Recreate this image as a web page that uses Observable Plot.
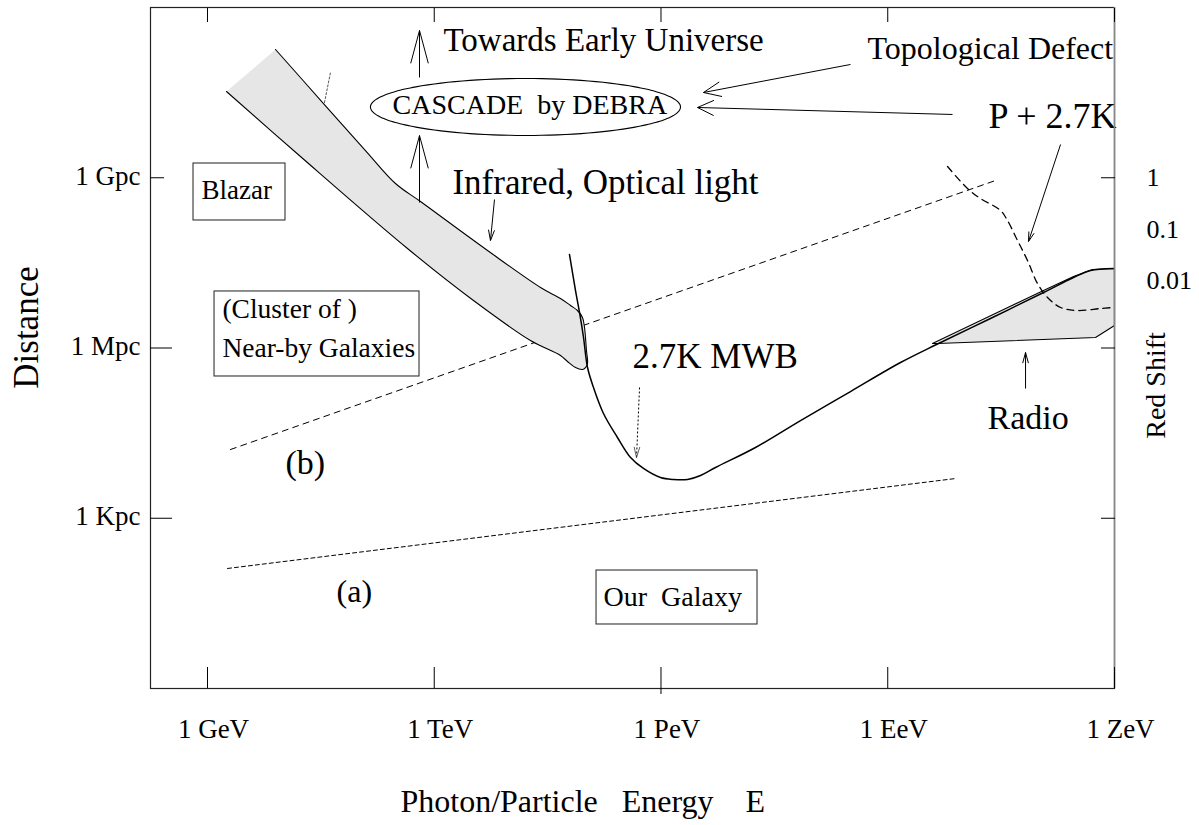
<!DOCTYPE html>
<html><head><meta charset="utf-8">
<script src="https://cdn.jsdelivr.net/npm/d3@7"></script>
<script src="https://cdn.jsdelivr.net/npm/@observablehq/plot@0.6"></script>
<style>
html,body{margin:0;padding:0;background:#fff;}
#chart svg{display:block;}
</style></head><body><div id="chart"></div>
<script>
// x: log10(E / eV), y: log10(distance / pc)
const xTicks = [9, 12, 15, 18, 21];
const xTickLabels = ["1 GeV", "1 TeV", "1 PeV", "1 EeV", "1 ZeV"];
const yTicks = [9, 6, 3];
const yTickLabels = ["1 Gpc", "1 Mpc", "1 Kpc"];
const redshiftLabels = ["1", "0.1", "0.01"];
const redshiftY = [8.863, 7.947, 7.048];

// Infrared / optical band outline (upper edge, then lower edge back)
const irX = [9.900, 10.535, 11.090, 11.487, 11.818, 12.705, 13.406, 13.670, 13.803, 13.895, 13.961, 13.988, 14.014, 14.028, 14.001,
             13.961, 13.869, 13.763, 13.670, 13.273, 12.519, 11.646, 10.230, 9.251];
const irY = [11.260, 10.308, 9.480, 8.899, 8.581, 7.718, 7.066, 6.872, 6.749, 6.661, 6.537, 6.361, 5.956, 5.727, 5.656,
             5.621, 5.656, 5.762, 5.868, 6.132, 6.837, 7.753, 9.374, 10.520];

// 2.7K microwave background horizon
const mwbX = [13.789, 13.869, 13.922, 13.975, 14.028, 14.107, 14.239, 14.424, 14.597, 14.768, 14.993, 15.165, 15.351, 15.523, 15.721,
              16.250, 16.846, 17.507, 18.169, 18.645, 19.359, 20.061, 20.458, 20.683, 20.987];
const mwbY = [7.648, 7.013, 6.626, 6.185, 5.656, 5.304, 4.846, 4.423, 4.070, 3.877, 3.718, 3.683, 3.683, 3.753, 3.894,
              4.247, 4.722, 5.233, 5.744, 6.062, 6.520, 6.978, 7.242, 7.366, 7.401];

// Radio band
const radioX = [18.592, 20.061, 20.458, 20.709, 21.0, 21.0, 20.749, 18.658, 18.592];
const radioY = [6.079, 7.013, 7.260, 7.383, 7.401, 6.396, 6.185, 6.079, 6.079];

// P + 2.7K curve
const pgzX = [18.791, 19.055, 19.227, 19.492, 19.584, 19.717, 19.849, 19.981, 20.114, 20.286, 20.511, 20.815, 20.987];
const pgzY = [9.198, 8.811, 8.634, 8.423, 8.247, 7.894, 7.542, 7.137, 6.890, 6.714, 6.661, 6.696, 6.714];

// Dashed boundaries (a) and (b)
const lineBX = [9.304, 19.426];
const lineBY = [4.211, 8.952];
const lineAX = [9.265, 18.897];
const lineAY = [2.115, 3.700];

// short dotted tick near IR band
const dotX = [10.548, 10.627];
const dotY = [10.326, 10.855];

// Arrows: tail (x1,y1) -> tip (x2,y2)
const arrowX1 = [11.805, 11.805, 12.797, 17.507, 18.857, 20.286, 19.823];
const arrowY1 = [10.767, 8.564, 8.617, 10.996, 10.115, 9.586, 5.286];
const arrowX2 = [11.805, 11.805, 12.744, 15.562, 15.483, 19.862, 19.823];
const arrowY2 = [11.595, 9.744, 7.894, 10.502, 10.238, 7.877, 5.921];
const arrowHeadLen = [34, 34, 11, 19, 18, 10, 11];
const arrowHeadAngle = [15, 15, 16, 23, 25, 16, 15];

// dotted arrow to the MWB curve
const dotArrowX1 = [14.716], dotArrowY1 = [5.304], dotArrowX2 = [14.676], dotArrowY2 = [4.070];

// Boxes
const boxX1 = [8.815, 9.093, 14.147];
const boxX2 = [10.032, 11.805, 16.277];
const boxY1 = [8.247, 5.498, 1.128];
const boxY2 = [9.251, 6.996, 2.079];

// Ellipse around "CASCADE by DEBRA"
const ellipseCenter = [13.207, 10.247];
const ellipseRadius = [2.051, 0.502];

// Annotation labels (start-anchored, y is the baseline)
const labelText = ["Towards Early Universe", "Topological Defect", "CASCADE\u00a0\u00a0by DEBRA", "P + 2.7K",
  "Infrared, Optical light", "2.7K MWB", "Radio", "(b)", "(a)", "Blazar", "(Cluster of )", "Near-by Galaxies", "Our\u00a0\u00a0Galaxy"];
const labelX = [12.122, 17.732, 11.448, 19.333, 12.241, 14.623, 19.320, 10.032, 10.707, 8.921, 9.198, 9.198, 14.239];
const labelY = [11.242, 11.101, 10.115, 9.885, 8.722, 5.639, 4.581, 3.771, 1.533, 8.617, 6.520, 5.850, 1.445];
const labelSize = [33, 32, 28, 36, 35, 35, 34, 34, 32, 27, 27.5, 27.5, 28];

const W = 1199, H = 825, mL = 150, mR = 85, mT = 7, mB = 137;
const xDomain = [8.2459, 21], yDomain = [0, 12];
const xs = Plot.scale({x: {type: "linear", domain: xDomain, range: [mL, W - mR]}});
const ys = Plot.scale({y: {type: "linear", domain: yDomain, range: [H - mB, mT]}});

const pts = (X, Y) => X.map((x, i) => ({x, y: Y[i]}));

function heads(X1, Y1, X2, Y2, L, A) {
  const out = [];
  X1.forEach((_, i) => {
    const tx = xs.apply(X2[i]), ty = ys.apply(Y2[i]);
    const sx = xs.apply(X1[i]), sy = ys.apply(Y1[i]);
    const a = Math.atan2(sy - ty, sx - tx), h = A[i] * Math.PI / 180;
    for (const s of [-1, 1]) {
      out.push({x1: X2[i], y1: Y2[i],
        x2: xs.invert(tx + L[i] * Math.cos(a + s * h)),
        y2: ys.invert(ty + L[i] * Math.sin(a + s * h))});
    }
  });
  return out;
}
const shafts = arrowX1.map((x1, i) => ({x1, y1: arrowY1[i], x2: arrowX2[i], y2: arrowY2[i]}));
const arrowHeads = heads(arrowX1, arrowY1, arrowX2, arrowY2, arrowHeadLen, arrowHeadAngle);
const dotShaft = [{x1: dotArrowX1[0], y1: dotArrowY1[0], x2: dotArrowX2[0], y2: dotArrowY2[0]}];
const dotHeads = heads(dotArrowX1, dotArrowY1, dotArrowX2, dotArrowY2, [11], [15]);

const ellipse = d3.range(0, 361, 3).map(a => ({
  x: ellipseCenter[0] + ellipseRadius[0] * Math.cos(a * Math.PI / 180),
  y: ellipseCenter[1] + ellipseRadius[1] * Math.sin(a * Math.PI / 180)
}));
const boxes = boxX1.map((x1, i) => ({x1, x2: boxX2[i], y1: boxY1[i], y2: boxY2[i]}));
const labels = labelText.map((t, i) => ({t, x: labelX[i], y: labelY[i], s: labelSize[i]}));

const plot = Plot.plot({
  width: W, height: H,
  marginLeft: mL, marginRight: mR, marginTop: mT, marginBottom: mB,
  x: {type: "linear", domain: xDomain, axis: null},
  y: {type: "linear", domain: yDomain, axis: null},
  style: {fontFamily: "'Liberation Serif', 'Times New Roman', serif", background: "white", color: "black", overflow: "visible"},
  marks: [
    // dashed boundaries
    Plot.line(pts(lineBX, lineBY), {x: "x", y: "y", stroke: "black", strokeWidth: 1, strokeDasharray: "6,5"}),
    Plot.line(pts(lineAX, lineAY), {x: "x", y: "y", stroke: "black", strokeWidth: 1, strokeDasharray: "4,3"}),
    // IR / optical band
    Plot.line(pts(irX, irY), {x: "x", y: "y", fill: "#e6e6e6", stroke: "black", strokeWidth: 1.1, curve: "catmull-rom"}),
    Plot.line(pts(dotX, dotY), {x: "x", y: "y", stroke: "#555", strokeWidth: 1, strokeDasharray: "2,2"}),
    // radio band
    Plot.line(pts(radioX, radioY), {x: "x", y: "y", fill: "#e6e6e6", stroke: "black", strokeWidth: 1.1}),
    // MWB horizon
    Plot.line(pts(mwbX, mwbY), {x: "x", y: "y", stroke: "black", strokeWidth: 1.5, curve: "catmull-rom"}),
    // P + 2.7K
    Plot.line(pts(pgzX, pgzY), {x: "x", y: "y", stroke: "black", strokeWidth: 1.3, strokeDasharray: "7,5", curve: "catmull-rom"}),
    // boxes and ellipse
    Plot.rect(boxes, {x1: "x1", x2: "x2", y1: "y1", y2: "y2", fill: "none", stroke: "#333", strokeWidth: 1.1}),
    Plot.line(ellipse, {x: "x", y: "y", stroke: "black", strokeWidth: 1.1, curve: "catmull-rom"}),
    // arrows
    Plot.link(shafts, {x1: "x1", y1: "y1", x2: "x2", y2: "y2", stroke: "black", strokeWidth: 1}),
    Plot.link(arrowHeads, {x1: "x1", y1: "y1", x2: "x2", y2: "y2", stroke: "black", strokeWidth: 1}),
    Plot.link(dotShaft, {x1: "x1", y1: "y1", x2: "x2", y2: "y2", stroke: "black", strokeWidth: 1, strokeDasharray: "2,2"}),
    Plot.link(dotHeads, {x1: "x1", y1: "y1", x2: "x2", y2: "y2", stroke: "#333", strokeWidth: 0.8}),
    // labels
    Plot.text(labels, {x: "x", y: "y", text: "t", fontSize: "s", textAnchor: "start", lineAnchor: "bottom", fill: "black"}),
    // frame
    Plot.frame({stroke: "#222", strokeWidth: 1.2}),
    Plot.ruleX([xDomain[1]], {stroke: "#888", strokeWidth: 1.6}),
    // ticks (inward)
    Plot.axisX(xTicks, {anchor: "bottom", tickSize: -21, fill: "none", label: null, stroke: "black"}),
    Plot.axisX([15], {anchor: "bottom", tickSize: 6, fill: "none", label: null, stroke: "black"}),
    Plot.axisX(xTicks, {anchor: "top", tickSize: -14, fill: "none", label: null, stroke: "black"}),
    Plot.axisY([9], {anchor: "left", tickSize: -14, fill: "none", label: null, stroke: "black"}),
    Plot.axisY([6, 3], {anchor: "left", tickSize: -22, fill: "none", label: null, stroke: "black"}),
    Plot.axisY(yTicks, {anchor: "right", tickSize: -14, fill: "none", label: null, stroke: "black"}),
    // tick labels
    Plot.text(xTicks, {x: d => d, text: (d, i) => xTickLabels[i], frameAnchor: "bottom", dy: 49, dx: 6, lineAnchor: "bottom", textAnchor: "middle", fontSize: 27, fill: "black"}),
    Plot.text(yTicks, {y: d => d, text: (d, i) => yTickLabels[i], frameAnchor: "left", dx: -10, dy: 7, lineAnchor: "bottom", textAnchor: "end", fontSize: 27, fill: "black"}),
    Plot.text(redshiftY, {y: d => d, text: (d, i) => redshiftLabels[i], frameAnchor: "right", dx: 32, lineAnchor: "bottom", textAnchor: "start", fontSize: 26, fill: "black"}),
    // axis titles
    Plot.text(["Distance"], {y: 6.361, frameAnchor: "left", dx: -113, rotate: -90, lineAnchor: "bottom", textAnchor: "middle", fontSize: 35, fill: "black"}),
    Plot.text(["Red Shift"], {y: 5.339, frameAnchor: "right", dx: 50, rotate: -90, lineAnchor: "bottom", textAnchor: "middle", fontSize: 28, fill: "black"}),
    Plot.text(["Photon/Particle\u00a0\u00a0\u00a0Energy\u00a0\u00a0\u00a0\u00a0E"], {x: 11.553, frameAnchor: "bottom", dy: 123, lineAnchor: "bottom", textAnchor: "start", fontSize: 32, fill: "black"})
  ]
});
document.getElementById("chart").append(plot);
</script>
</body></html>
